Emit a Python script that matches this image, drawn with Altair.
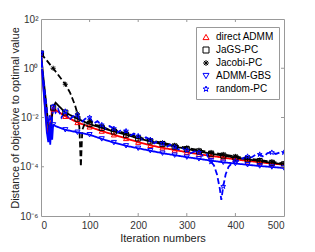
import altair as alt
import pandas as pd

# ---------------- data (log10 of the distance) ----------------
series_names = ["direct ADMM", "JaGS-PC", "Jacobi-PC", "ADMM-GBS", "random-PC"]
series_colors = ["#ff0000", "#000000", "#000000", "#0000ff", "#0000ff"]

admm_it = [0, 4, 8, 12, 15, 17, 19, 22, 25, 30, 50, 75, 100, 125, 150, 175, 200, 225, 250,
           275, 300, 325, 350, 375, 400, 425, 450, 475, 500]
admm_lg = [0.6, -0.5, -1.5, -2.4, -2.8, -2.2, -2.9, -1.8, -1.65, -1.7, -1.95, -2.2, -2.38, -2.55,
           -2.7, -2.85, -3.0, -3.13, -3.23, -3.32, -3.41, -3.49, -3.56, -3.63, -3.7, -3.76, -3.82,
           -3.87, -3.92]

jags_it = [0, 5, 10, 15, 19, 23, 25, 30, 40, 50, 75, 100, 125, 150, 175, 200, 225, 250, 275,
           300, 325, 350, 375, 400, 425, 450, 475, 500]
jags_lg = [0.6, -0.4, -1.3, -2.3, -2.9, -1.9, -1.6, -1.4, -1.6, -1.8, -2.05, -2.27, -2.42, -2.57,
           -2.7, -2.85, -2.97, -3.08, -3.18, -3.28, -3.38, -3.47, -3.55, -3.63, -3.7, -3.77,
           -3.84, -3.9]

jacobi_it = [0, 25, 50, 60, 70, 75, 79, 82, 85, 90, 100, 110, 125, 140, 150, 175, 200, 225,
             250, 275, 300, 325, 350, 375, 400, 425, 450, 475, 500]
jacobi_lg = [0.6, 0.0, -0.65, -1.0, -1.5, -1.85, -2.4, -4.0, -2.5, -2.25, -2.15, -2.3, -2.35,
             -2.5, -2.5, -2.65, -2.8, -2.92, -3.03, -3.13, -3.23, -3.33, -3.42, -3.5, -3.58,
             -3.66, -3.73, -3.8, -3.87]

gbs_it = [0, 4, 8, 12, 15, 17, 19, 21, 23, 25, 30, 50, 75, 100, 125, 150, 175, 200, 225, 250,
          275, 300, 325, 350, 375, 400, 425, 450, 475, 500]
gbs_lg = [0.6, -0.6, -1.6, -2.6, -3.0, -2.3, -3.1, -2.4, -2.9, -2.3, -2.35, -2.5, -2.6, -2.7,
          -2.87, -3.02, -3.15, -3.25, -3.35, -3.45, -3.53, -3.61, -3.68, -3.75, -3.82, -3.87,
          -3.92, -3.97, -4.01, -4.05]

rand_it = [0, 4, 8, 12, 15, 18, 21, 25, 30, 35, 42, 50, 58, 66, 75, 83, 91, 100, 108, 116, 125,
           133, 141, 150, 158, 166, 175, 183, 191, 200, 208, 216, 225, 233, 241, 250, 258, 266,
           275, 283, 291, 300, 308, 316, 325, 333, 341, 350, 356, 362, 368, 371, 375, 380, 386,
           393, 400, 408, 416, 425, 433, 441, 450, 458, 466, 475, 483, 491, 500]
rand_lg = [0.6, -0.3, -1.0, -1.7, -2.3, -1.9, -2.4, -1.55, -1.8, -1.65, -2.0, -1.75, -2.1, -1.95,
           -1.9, -2.2, -2.05, -2.0, -2.25, -2.15, -2.3, -2.45, -2.35, -2.45, -2.6, -2.5, -2.55,
           -2.75, -2.65, -2.75, -2.9, -2.8, -2.9, -3.05, -2.95, -3.05, -3.2, -3.1, -3.2, -3.3,
           -3.25, -3.33, -3.45, -3.38, -3.42, -3.55, -3.5, -3.8, -3.95, -4.3, -4.9, -5.35, -4.8,
           -4.3, -4.0, -3.85, -3.77, -3.75, -3.65, -3.58, -3.62, -3.52, -3.5, -3.6, -3.45, -3.42,
           -3.48, -3.42, -3.42]

x_tick_values = [100, 200, 300, 400]
y_tick_values = [1e-6, 1e-4, 1e-2, 1, 100]
y_inner_ticks = [1e-4, 1e-2, 1]

# ---------------- build table ----------------
rows = []
for name, its, lgs in [("direct ADMM", admm_it, admm_lg), ("JaGS-PC", jags_it, jags_lg),
                       ("Jacobi-PC", jacobi_it, jacobi_lg), ("ADMM-GBS", gbs_it, gbs_lg),
                       ("random-PC", rand_it, rand_lg)]:
    for i, l in zip(its, lgs):
        rows.append({"series": name, "iter": i, "value": 10 ** l})
df = pd.DataFrame(rows)

star = ("M0,-1L0.235,-0.324L0.951,-0.309L0.38,0.124L0.588,0.809L0,0.4L-0.588,0.809"
        "L-0.38,0.124L-0.951,-0.309L-0.235,-0.324Z")
asterisk = "M-1,0L1,0M0,-1L0,1M-0.7,-0.7L0.7,0.7M-0.7,0.7L0.7,-0.7"
series_shapes = ["triangle-up", "square", asterisk, "triangle-down", star]
series_dash = [[1, 0], [1, 0], [6, 3], [1, 0], [6, 3]]

FONT = "Liberation Sans"
label_expr = ("round(log(datum.value)/LN10) == 2 ? '10²' : round(log(datum.value)/LN10) == 0 ? '10⁰' : "
              "round(log(datum.value)/LN10) == -2 ? '10⁻²' : round(log(datum.value)/LN10) == -4 ? '10⁻⁴' : '10⁻⁶'")

X = alt.X("iter:Q", scale=alt.Scale(domain=[0, 500], nice=False),
          axis=alt.Axis(title="Iteration numbers", values=[0, 100, 200, 300, 400, 500],
                        labelPadding=4, titleY=16, format="d"))
Y = alt.Y("value:Q", scale=alt.Scale(type="log", domain=[1e-6, 100], nice=False),
          axis=alt.Axis(title="Distance of objective to optimal value", values=y_tick_values,
                        labelExpr=label_expr, labelPadding=3, titleX=-21))

layers = []
for name, col, dash in zip(series_names, series_colors, series_dash):
    layers.append(
        alt.Chart(df).transform_filter(alt.datum.series == name)
        .mark_line(color=col, strokeWidth=1.8, strokeDash=dash, clip=True)
        .encode(x=X, y=Y)
    )

legend = alt.Legend(title=None, orient="none", legendX=155, legendY=8,
                    fillColor="white", strokeColor="#999999", padding=5,
                    labelFont=FONT, labelFontSize=10, labelColor="#000000",
                    symbolSize=36, symbolStrokeWidth=1, rowPadding=3, labelOffset=5)

points = (
    alt.Chart(df).transform_filter("datum.iter % 25 == 0")
    .mark_point(filled=False, size=26, strokeWidth=1, opacity=1, clip=True)
    .encode(
        x=X, y=Y,
        color=alt.Color("series:N", scale=alt.Scale(domain=series_names, range=series_colors),
                        legend=legend),
        shape=alt.Shape("series:N", scale=alt.Scale(domain=series_names, range=series_shapes),
                        legend=legend),
    )
)
layers.append(points)

tick_col = "#999999"
xt = pd.DataFrame({"iter": x_tick_values})
yt = pd.DataFrame({"value": y_inner_ticks})
layers.append(alt.Chart(xt).mark_rule(color=tick_col).encode(x=X, y=alt.value(0), y2=alt.value(3)))
layers.append(alt.Chart(xt).mark_rule(color=tick_col).encode(x=X, y=alt.value(197), y2=alt.value(194)))
layers.append(alt.Chart(yt).mark_rule(color=tick_col).encode(y=Y, x=alt.value(0), x2=alt.value(3)))
layers.append(alt.Chart(yt).mark_rule(color=tick_col).encode(y=Y, x=alt.value(243), x2=alt.value(240)))

chart = (
    alt.layer(*layers)
    .properties(width=243, height=197, autosize=alt.AutoSizeParams(type="none"),
                padding={"left": 33, "top": 11, "right": 23, "bottom": 28})
    .configure_view(stroke="#999999", strokeWidth=1)
    .configure_axis(domain=False, grid=False, ticks=False, labelFont=FONT, titleFont=FONT,
                    labelFontSize=10, titleFontSize=11, labelColor="#333333",
                    titleColor="#222222", titleFontWeight="normal")
)

chart.save("out.html", embed_options={"renderer": "svg", "actions": False})
